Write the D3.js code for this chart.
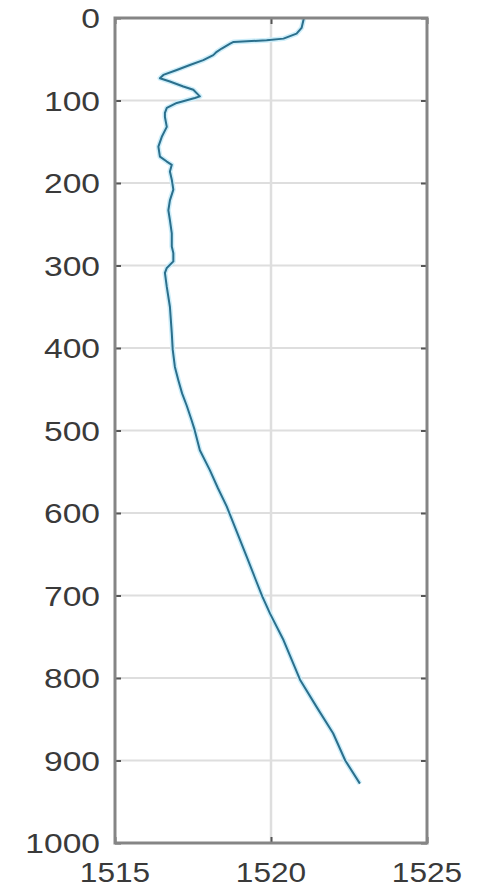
<!DOCTYPE html>
<html><head><meta charset="utf-8">
<script src="https://cdn.jsdelivr.net/npm/d3@7"></script>
<style>html,body{margin:0;padding:0;background:#fff;}svg{display:block;}</style>
</head><body>
<svg id="chart" width="483" height="890"></svg>
<script>
const depth = [1,12,19,25,27,29,31,37,41,45,51,57,63,69,73,77,83,87,95,97,103,109,115,120,132,144,156,168,174,178,186,196,208,221,233,245,261,277,285,295,303,309,326,350,382,402,423,439,455,470,487,499,524,548,570,592,612,653,680,701,722,754,802,835,867,900,928];
const speed = [1521.05,1520.98,1520.82,1520.4,1519.86,1518.8,1518.69,1518.42,1518.26,1518.15,1517.83,1517.4,1516.98,1516.55,1516.44,1516.76,1517.19,1517.51,1517.72,1517.56,1516.98,1516.66,1516.6,1516.6,1516.66,1516.5,1516.39,1516.44,1516.66,1516.82,1516.76,1516.82,1516.87,1516.76,1516.71,1516.76,1516.82,1516.82,1516.87,1516.87,1516.66,1516.6,1516.66,1516.76,1516.82,1516.85,1516.92,1517.03,1517.15,1517.3,1517.45,1517.55,1517.72,1518.04,1518.3,1518.58,1518.79,1519.22,1519.5,1519.72,1519.97,1520.4,1520.93,1521.46,1521.99,1522.38,1522.85];
const xTicks = [1515, 1520, 1525];
const yTicks = [0,100,200,300,400,500,600,700,800,900,1000];

const svg = d3.select("#chart");
const L = 115, R = 427, T = 18, B = 843;
const x = d3.scaleLinear().domain([1515, 1525]).range([L, R]);
const y = d3.scaleLinear().domain([0, 1000]).range([T, B]);

const font = "'Liberation Sans', Arial, sans-serif";
const textColor = "#3a3a3a";

// grid
svg.append("g").selectAll("line").data(yTicks.slice(1, -1)).join("line")
  .attr("x1", L).attr("x2", R).attr("y1", d => y(d)).attr("y2", d => y(d))
  .attr("stroke", "#dedede").attr("stroke-width", 2);
svg.append("g").selectAll("line").data(xTicks.slice(1, -1)).join("line")
  .attr("y1", T).attr("y2", B).attr("x1", d => x(d)).attr("x2", d => x(d))
  .attr("stroke", "#dedede").attr("stroke-width", 2.5);

// data line
const line = d3.line().x((d, i) => x(speed[i])).y(d => y(d));
svg.append("path").datum(depth).attr("d", line)
  .attr("fill", "none").attr("stroke", "#cdeefa").attr("stroke-width", 5).attr("stroke-linejoin", "round");
svg.append("path").datum(depth).attr("d", line)
  .attr("fill", "none").attr("stroke", "#2b6f8c").attr("stroke-width", 2).attr("stroke-linejoin", "round");

// axes with inward ticks
const tickLen = 6;
const axL = d3.axisLeft(y).tickValues(yTicks).tickSize(-tickLen).tickFormat("");
const axR = d3.axisRight(y).tickValues(yTicks).tickSize(-tickLen).tickFormat("");
const axB = d3.axisBottom(x).tickValues(xTicks).tickSize(-tickLen).tickFormat("");
const axT = d3.axisTop(x).tickValues(xTicks).tickSize(-tickLen).tickFormat("");
function styleAxis(g) {
  g.select(".domain").remove();
  g.selectAll(".tick line").attr("stroke", "#555").attr("stroke-width", 2);
}
svg.append("g").attr("transform", `translate(${L},0)`).call(axL).call(styleAxis);
svg.append("g").attr("transform", `translate(${R},0)`).call(axR).call(styleAxis);
svg.append("g").attr("transform", `translate(0,${B})`).call(axB).call(styleAxis);
svg.append("g").attr("transform", `translate(0,${T})`).call(axT).call(styleAxis);

// box
svg.append("rect").attr("x", L).attr("y", T).attr("width", R - L).attr("height", B - T)
  .attr("fill", "none").attr("stroke", "#858585").attr("stroke-width", 3);

// labels
const sx = 1.2;
svg.append("g").selectAll("text").data(yTicks).join("text")
  .attr("transform", d => `translate(100,${y(d) + 10}) scale(${sx},1)`)
  .attr("text-anchor", "end").attr("font-family", font).attr("font-size", 28)
  .attr("fill", textColor).text(d => d);
svg.append("g").selectAll("text").data(xTicks).join("text")
  .attr("transform", d => `translate(${x(d)},882) scale(1.13,1)`)
  .attr("text-anchor", "middle").attr("font-family", font).attr("font-size", 28)
  .attr("fill", textColor).text(d => d);
</script>
</body></html>
